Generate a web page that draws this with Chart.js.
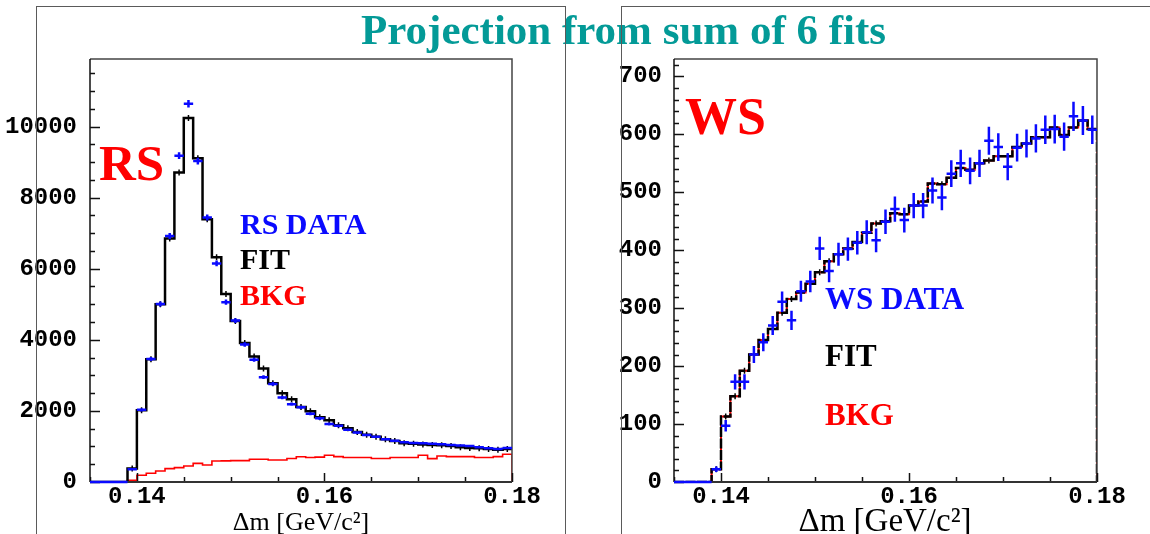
<!DOCTYPE html>
<html>
<head>
<meta charset="utf-8">
<script src="https://cdn.jsdelivr.net/npm/chart.js@4.4.1/dist/chart.umd.min.js"></script>
<style>
  body { margin: 0; width: 1150px; height: 534px; background: #fff; position: relative; overflow: hidden; font-family: "Liberation Serif", "Times New Roman", serif; }
  canvas { position: absolute; top: 0; }
  .frame { position: absolute; top: 6px; border: 1.5px solid #5a5a5a; border-bottom: none; z-index: 3; }
  .lbl { position: absolute; font-weight: bold; white-space: nowrap; line-height: 1; z-index: 2; }
  .axt { position: absolute; white-space: nowrap; line-height: 1; transform: translateX(-50%); z-index: 2; }
</style>
</head>
<body>
<div class="lbl" style="left:361px; top:8px; font-size:43px; color:#039a97; z-index:1;">Projection from sum of 6 fits</div>

<canvas id="rsChart" width="560" height="534" style="left:0"></canvas>
<canvas id="wsChart" width="570" height="534" style="left:580px"></canvas>

<div class="frame" style="left:36px; width:528px; height:540px;"></div>
<div class="frame" style="left:621px; width:600px; height:540px;"></div>

<div class="lbl" style="left:99px; top:138px; font-size:51px; color:#ff0000;">RS</div>
<div class="lbl" style="left:240px; top:209px; font-size:30px; color:#0a0aff;">RS DATA</div>
<div class="lbl" style="left:240px; top:244px; font-size:30px; color:#000;">FIT</div>
<div class="lbl" style="left:240px; top:280px; font-size:30px; color:#ff0000;">BKG</div>
<div class="axt" style="left:301px; top:509px; font-size:26px;">Δm [GeV/c²]</div>

<div class="lbl" style="left:685px; top:91px; font-size:52px; color:#ff0000;">WS</div>
<div class="lbl" style="left:825px; top:283px; font-size:31px; color:#0a0aff;">WS DATA</div>
<div class="lbl" style="left:825px; top:340px; font-size:31px; color:#000;">FIT</div>
<div class="lbl" style="left:825px; top:399px; font-size:31px; color:#ff0000;">BKG</div>
<div class="axt" style="left:885px; top:504px; font-size:33px;">Δm [GeV/c²]</div>

<script>
// binning of both histograms: 45 bins of 1 MeV from 0.135 to 0.180
const X_MIN = 0.135, X_MAX = 0.18, BIN = 0.001;
const xTicks = [0.14, 0.16, 0.18];

// right-sign sample
const rsYTicks = [0, 2000, 4000, 6000, 8000, 10000];
const rsData = [0, 0, 0, 0, 360, 2030, 3460, 5010, 6920, 9180, 10640, 9030, 7440, 6150, 5060,
  4540, 3870, 3440, 2950, 2760, 2380, 2190, 2100, 1920, 1790, 1630, 1580, 1470, 1390, 1320,
  1270, 1200, 1160, 1120, 1100, 1090, 1075, 1060, 1040, 1025, 1010, 980, 950, 930, 960];
const rsFit = [0, 0, 0, 0, 380, 2020, 3450, 5000, 6850, 8710, 10240, 9110, 7390, 6320, 5290,
  4530, 3910, 3530, 3190, 2780, 2500, 2330, 2110, 1990, 1820, 1740, 1600, 1510, 1410, 1330,
  1270, 1200, 1150, 1090, 1075, 1055, 1040, 1035, 1010, 980, 960, 950, 930, 910, 930];
const rsBkg = [0, 0, 0, 0, 45, 190, 245, 310, 375, 405, 450, 525, 480, 590, 595,
  600, 600, 640, 640, 620, 620, 660, 710, 690, 700, 752, 715, 690, 690, 690,
  660, 660, 690, 690, 690, 752, 658, 733, 715, 715, 715, 690, 690, 715, 780];

// wrong-sign sample
const wsYTicks = [0, 100, 200, 300, 400, 500, 600, 700];
const wsData = [0, 0, 0, 0, 22, 97, 173, 173, 220, 241, 270, 311, 279, 329, 346,
  403, 364, 393, 402, 413, 431, 417, 449, 471, 452, 477, 477, 503, 491, 532,
  550, 537, 550, 589, 578, 544, 577, 584, 593, 608, 609, 596, 631, 624, 608];
const wsFit = [0, 0, 0, 0, 22, 113, 148, 192, 220, 245, 264, 292, 316, 327, 342,
  362, 381, 393, 403, 414, 430, 446, 450, 464, 462, 477, 484, 515, 514, 525,
  542, 539, 550, 555, 562, 562, 578, 584, 595, 595, 612, 599, 612, 624, 609];
const wsBkg = [0, 0, 0, 0, 22, 113, 148, 192, 220, 245, 264, 292, 316, 327, 342,
  362, 381, 393, 403, 414, 430, 446, 450, 464, 462, 477, 484, 515, 514, 525,
  542, 539, 550, 555, 562, 562, 578, 584, 595, 595, 612, 599, 612, 624, 609];

const BLUE = '#0a0aff', RED = '#ff0000';

// histogram outline: one point per lower bin edge, held until the next edge
function stepPoints(vals, dropAtEnd) {
  const pts = vals.map((v, i) => ({ x: X_MIN + i * BIN, y: v }));
  pts.push({ x: X_MAX, y: vals[vals.length - 1] });
  if (dropAtEnd) pts.push({ x: X_MAX, y: 0 });
  return pts;
}

// data crosses: bin-wide horizontal bar, sqrt(N) vertical bar
function errorBars(vals, color, width) {
  return {
    id: 'errorBars',
    afterDatasetsDraw(chart) {
      const { ctx, scales: { x, y } } = chart;
      ctx.save();
      ctx.strokeStyle = color;
      ctx.lineWidth = width;
      ctx.beginPath();
      vals.forEach((v, i) => {
        const lo = X_MIN + i * BIN;
        const yc = y.getPixelForValue(v);
        const xc = x.getPixelForValue(lo + BIN / 2);
        ctx.moveTo(x.getPixelForValue(lo), yc);
        ctx.lineTo(x.getPixelForValue(lo + BIN), yc);
        const e = Math.sqrt(v);
        if (e > 0) {
          ctx.moveTo(xc, y.getPixelForValue(v - e));
          ctx.lineTo(xc, y.getPixelForValue(v + e));
        }
      });
      ctx.stroke();
      ctx.restore();
    }
  };
}

// small marks at the bin centres of the fit histogram
function fitMarks(vals) {
  return {
    id: 'fitMarks',
    afterDatasetsDraw(chart) {
      const { ctx, scales: { x, y } } = chart;
      ctx.save();
      ctx.strokeStyle = '#000';
      ctx.lineWidth = 1.5;
      ctx.beginPath();
      vals.forEach((v, i) => {
        if (v <= 0) return;
        const xc = x.getPixelForValue(X_MIN + (i + 0.5) * BIN);
        const yc = y.getPixelForValue(v);
        ctx.moveTo(xc, yc - 3);
        ctx.lineTo(xc, yc + 3);
      });
      ctx.stroke();
      ctx.restore();
    }
  };
}

// frame plus inward major/minor ticks
function frameTicks(yMinor) {
  return {
    id: 'frameTicks',
    afterDatasetsDraw(chart) {
      const { ctx, chartArea: a, scales: { x, y } } = chart;
      ctx.save();
      ctx.strokeStyle = '#444';
      ctx.lineWidth = 1.5;
      ctx.beginPath();
      ctx.moveTo(a.left, a.top); ctx.lineTo(a.right, a.top); ctx.lineTo(a.right, a.bottom);
      ctx.stroke();

      ctx.strokeStyle = '#111';
      ctx.lineWidth = 1.5;
      ctx.beginPath();
      ctx.moveTo(a.left, a.top); ctx.lineTo(a.left, a.bottom);
      for (let v = 0; v <= y.max + 1e-9; v += yMinor) {
        const py = Math.round(y.getPixelForValue(v)) + 0.5;
        const major = y.ticks.some(t => Math.abs(t.value - v) < 1e-6);
        ctx.moveTo(a.left, py); ctx.lineTo(a.left + (major ? 10 : 5), py);
      }
      for (let k = 0; X_MIN + k * 0.005 <= X_MAX + 1e-9; k++) {
        const v = X_MIN + k * 0.005;
        const px = Math.round(x.getPixelForValue(v)) + 0.5;
        const major = x.ticks.some(t => Math.abs(t.value - v) < 1e-6);
        ctx.moveTo(px, a.bottom); ctx.lineTo(px, a.bottom - (major ? 9 : 5));
      }
      ctx.stroke();

      ctx.strokeStyle = '#333';
      ctx.lineWidth = 2;
      ctx.beginPath();
      ctx.moveTo(a.left, a.bottom); ctx.lineTo(a.right, a.bottom);
      ctx.stroke();
      ctx.restore();
    }
  };
}

function makePanel(id, cfg) {
  const tickFont = { family: '"Liberation Mono", "Courier New", monospace', size: 24, weight: 'bold' };
  new Chart(document.getElementById(id), {
    type: 'line',
    data: { datasets: cfg.datasets },
    options: {
      responsive: false,
      animation: false,
      events: [],
      layout: { padding: { top: 59, right: cfg.padRight, left: 0, bottom: 0 } },
      plugins: { legend: { display: false }, tooltip: { enabled: false } },
      elements: { point: { radius: 0 } },
      scales: {
        x: {
          type: 'linear', min: X_MIN, max: X_MAX,
          grid: { display: false, drawTicks: false },
          border: { display: false },
          afterBuildTicks: s => { s.ticks = xTicks.map(v => ({ value: v })); },
          afterFit: s => { s.height = 52; },
          ticks: { font: tickFont, color: '#000', padding: 1, maxRotation: 0,
                   callback: v => v.toFixed(2) }
        },
        y: {
          type: 'linear', min: 0, max: cfg.yMax,
          grid: { display: false, drawTicks: false },
          border: { display: false },
          afterBuildTicks: s => { s.ticks = cfg.yTicks.map(v => ({ value: v })); },
          afterFit: s => { s.width = cfg.axisWidth; },
          ticks: { font: tickFont, color: '#000', padding: cfg.labelPad,
                   callback: v => String(v) }
        }
      }
    },
    plugins: cfg.plugins
  });
}

// dataset 0 is painted last, so the first entry ends up on top
makePanel('rsChart', {
  yMax: 11900, yTicks: rsYTicks, axisWidth: 90, padRight: 48, labelPad: 13,
  datasets: [
    { data: stepPoints(rsFit, false), stepped: 'before', borderColor: '#000', borderWidth: 2.5 },
    { data: stepPoints(rsBkg, true), stepped: 'before', borderColor: RED, borderWidth: 1.6 }
  ],
  plugins: [frameTicks(500), fitMarks(rsFit), errorBars(rsData, BLUE, 2.5)]
});

// background sits under the fit here; small gaps in the fit let it show through
makePanel('wsChart', {
  yMax: 730, yTicks: wsYTicks, axisWidth: 94, padRight: 53, labelPad: 12,
  datasets: [
    { data: stepPoints(wsFit, true), stepped: 'before', borderColor: '#000', borderWidth: 2.5, borderDash: [10, 1.5] },
    { data: stepPoints(wsBkg, true), stepped: 'before', borderColor: RED, borderWidth: 2 }
  ],
  plugins: [frameTicks(20), fitMarks(wsFit), errorBars(wsData, BLUE, 2.5)]
});
</script>
</body>
</html>
